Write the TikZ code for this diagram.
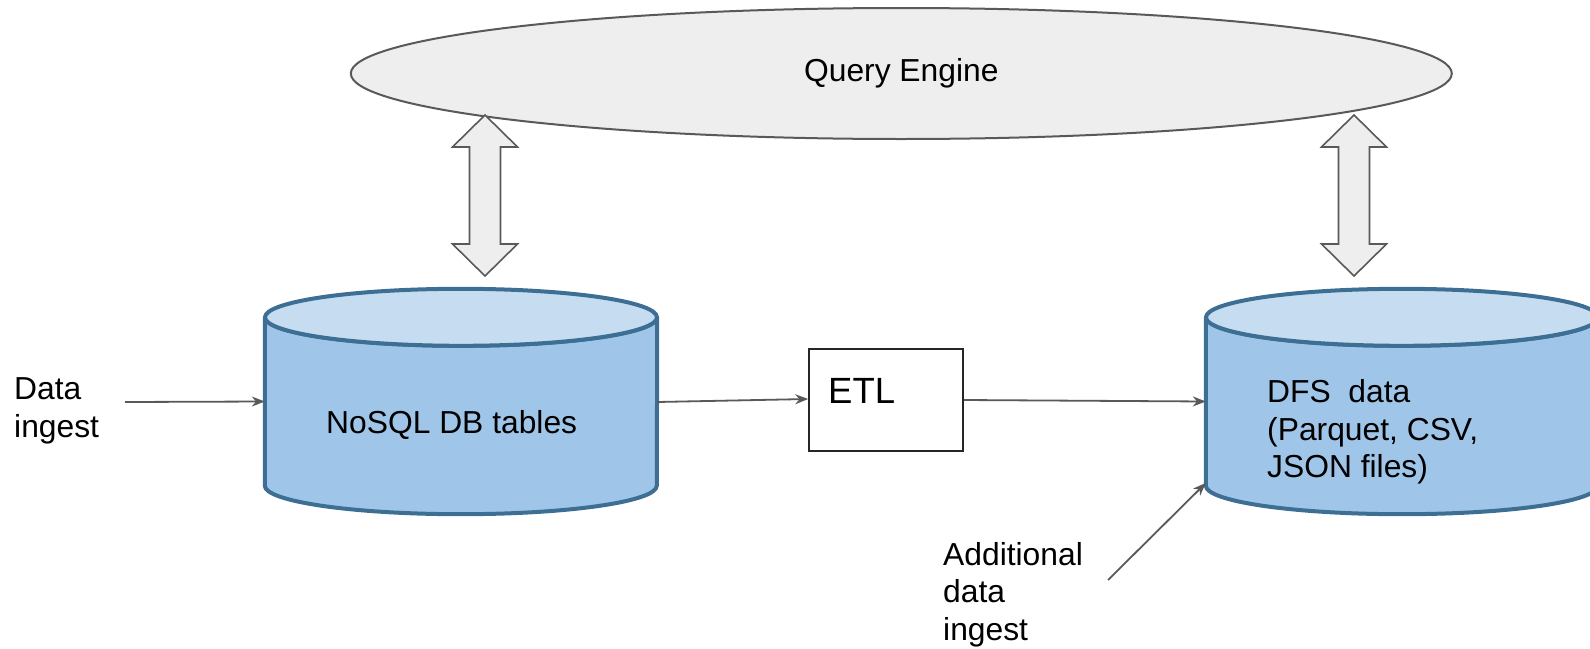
\documentclass[tikz,border=0pt]{standalone}
\usepackage{fontspec}
\setmainfont{Liberation Sans}
\usetikzlibrary{arrows.meta,shapes.geometric}

\definecolor{dbedge}{HTML}{3D6E93}
\definecolor{dbside}{HTML}{9FC5E8}
\definecolor{dbtop}{HTML}{C6DCF0}
\definecolor{ink}{HTML}{595959}
\definecolor{pale}{HTML}{EEEEEE}

\tikzset{
  lbl/.style={font=\fontsize{31.8}{37.5}\selectfont, inner sep=0pt, align=left},
  flow/.style={draw=ink, line width=1.8pt, -{Stealth[length=13pt,width=10pt]}},
  dbline/.style={draw=dbedge, line width=4pt, line join=round},
  dbframe/.style={minimum width=392pt, minimum height=225pt, inner sep=0pt},
  etlbox/.style={draw=black!85, line width=1.6pt, minimum width=154pt, minimum height=102pt, inner sep=0pt},
  bigarrow/.style={draw=ink, fill=pale, line width=1.6pt, line join=miter},
  pics/updown/.style={code={
    \path[bigarrow] (0,-80.5) -- (32.5,-48.5) -- (15.5,-48.5) -- (15.5,48.5)
      -- (32.5,48.5) -- (0,80.5) -- (-32.5,48.5) -- (-15.5,48.5)
      -- (-15.5,-48.5) -- (-32.5,-48.5) -- cycle;
  }}
}

% a drum-shaped database drawn over the frame of the named node
\newcommand\dbdrum[1]{%
  \path[dbline, fill=dbside]
    ([yshift=-28.5pt]#1.north west) -- ([yshift=28.5pt]#1.south west)
    arc[start angle=180, end angle=360, x radius=196pt, y radius=28.5pt]
    -- ([yshift=-28.5pt]#1.north east)
    arc[start angle=0, end angle=-180, x radius=196pt, y radius=28.5pt] -- cycle;
  \path[dbline, fill=dbtop] ([yshift=-28.5pt]#1.north)
    ellipse[x radius=196pt, y radius=28.5pt];
}

\begin{document}
\begin{tikzpicture}[x=1pt, y=-1pt]
  \useasboundingbox (0,0) rectangle (1590,648);
  \clip (0,0) rectangle (1590,648);

  % query engine
  \node[ellipse, draw=ink, fill=pale, line width=2pt, minimum width=1101pt,
        minimum height=131pt, inner sep=0pt, lbl] (qe) at (901.3,73.5) {Query Engine};

  % data stores
  \node[dbframe] (nosql) at (461,401.5) {};
  \dbdrum{nosql}
  \node[dbframe] (dfs) at (1402,401.5) {};
  \dbdrum{dfs}

  \node[lbl, anchor=base west] (nosqltext) at (326,433) {NoSQL DB tables};
  \node[lbl, anchor=north west] (dfstext) at (1267,379.5) {DFS\ \ data\\(Parquet, CSV,\\JSON files)};

  % two-way links to the query engine
  \pic (qlink1) at (485,195.5) {updown};
  \pic (qlink2) at (1354,195.5) {updown};

  % ETL step
  \node[etlbox] (etl) at (886,400) {};
  \node[inner sep=0pt, font=\fontsize{36.5}{43}\selectfont, anchor=base west] (etltext) at (828,403) {ETL};

  % ingest labels
  \node[lbl, anchor=north west] (ingest) at (14,377.8) {Data\\ingest};
  \node[lbl, anchor=north west] (addingest) at (943,542) {Additional\\data\\ingest};
  \coordinate (ingestin) at (125,402);
  \coordinate (addin) at (1108,580);

  % connectors
  \draw[flow] (ingestin) -- (nosql.west);
  \draw[flow] ([yshift=-0.5pt]nosql.east) -- ([yshift=1pt]etl.west);
  \draw[flow] (etl.east) -- (dfs.west);
  \draw[flow] (addin) -- ([yshift=-81.5pt]dfs.west);
\end{tikzpicture}
\end{document}
